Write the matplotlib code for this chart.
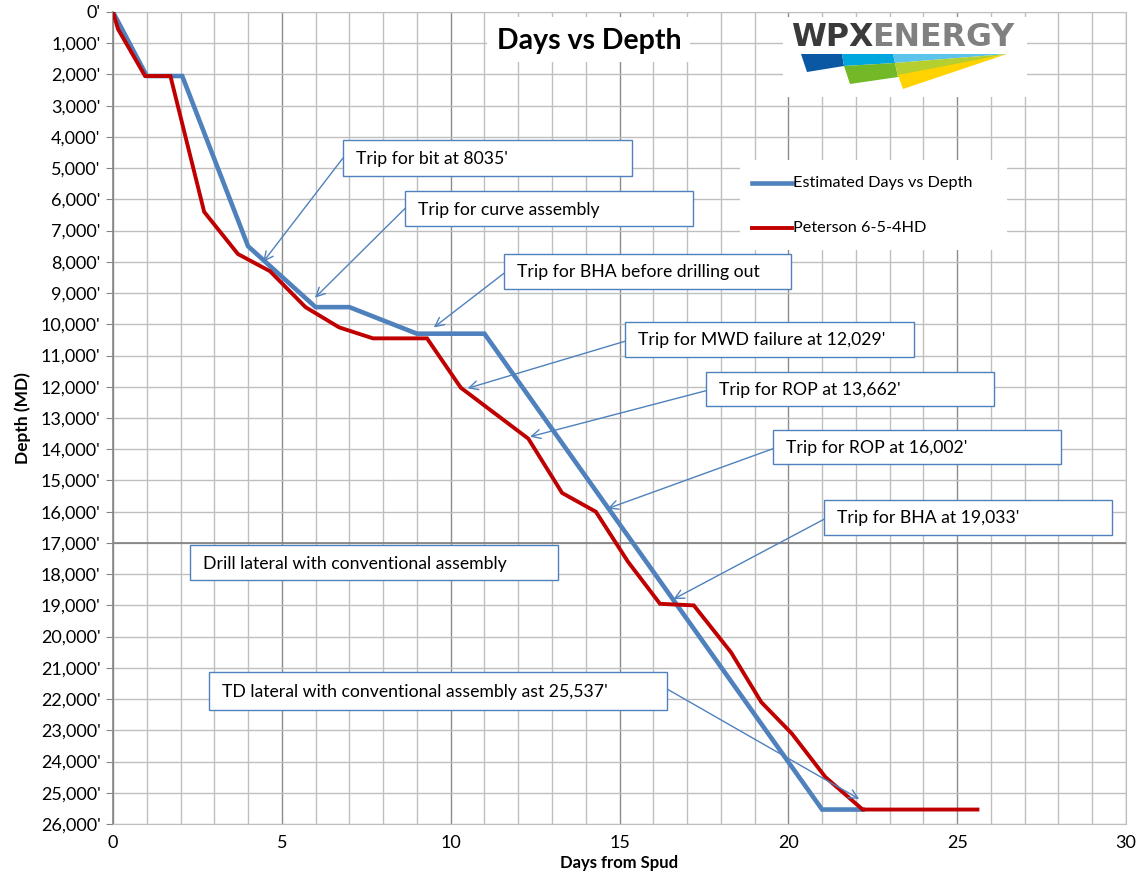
import matplotlib
matplotlib.use("Agg")
import matplotlib.pyplot as plt
from matplotlib.patches import Rectangle, Polygon
from matplotlib.ticker import MultipleLocator, FuncFormatter

# ---------------------------------------------------------------
# dados
est_days = [0, 1.0, 2.05, 4.0, 6.0, 7.0, 9.0, 11.0, 21.0, 22.2]
est_depth = [0, 2050, 2050, 7500, 9450, 9450, 10300, 10300, 25537, 25537]

act_days = [0, 0.15, 0.95, 1.7, 2.7, 3.7, 4.65, 5.7, 6.7, 7.7, 9.3, 10.3,
            12.3, 13.3, 14.3, 15.25, 16.2, 17.2, 18.3, 19.2, 20.1, 21.1,
            22.2, 25.6]
act_depth = [0, 550, 2050, 2050, 6400, 7750, 8300, 9450, 10100, 10450,
             10450, 12030, 13662, 15400, 16002, 17600, 18950, 19000, 20500,
             22100, 23100, 24500, 25537, 25537]

series_names = ["Estimated Days vs Depth", "Peterson 6-5-4HD"]

# texto das caixas e ponto (dias, profundidade) para onde a seta aponta
notes = ["Trip for bit at 8035'",
         "Trip for curve assembly",
         "Trip for BHA before drilling out",
         "Trip for MWD failure at 12,029'",
         "Trip for ROP at 13,662'",
         "Trip for ROP at 16,002'",
         "Trip for BHA at 19,033'",
         "Drill lateral with conventional assembly",
         "TD lateral with conventional assembly ast 25,537'"]
note_targets = [(4.45, 8000), (5.98, 9150), (9.5, 10100), (10.5, 12050),
                (12.35, 13600), (14.65, 15900), (16.6, 18800), None,
                (22.1, 25200)]

W, H = 1136, 873
BLUE = "#4F81BD"
RED = "#C00000"
FONT = ["Lato", "DejaVu Sans"]


def fx(x):
    return x / W


def fy(y):
    return 1 - y / H


#------------------------------------------------------------------
def main():
    plt.rcParams['font.family'] = FONT
    fig = plt.figure(figsize=(W / 100, H / 100), dpi=100)
    ax = fig.add_axes([fx(113), fy(824), fx(1126) - fx(113), fy(12) - fy(824)])

    ax.set_xlim(0, 30)
    ax.set_ylim(26000, 0)

    # grade
    ax.xaxis.set_major_locator(MultipleLocator(5))
    ax.xaxis.set_minor_locator(MultipleLocator(1))
    ax.yaxis.set_major_locator(MultipleLocator(1000))
    ax.grid(which="minor", axis="x", color="#BFBFBF", lw=1.0)
    ax.grid(which="major", axis="x", color="#8C8C8C", lw=1.0)
    ax.grid(which="major", axis="y", color="#BFBFBF", lw=1.0)
    ax.set_axisbelow(True)
    ax.axhline(17000, color="#7F7F7F", lw=1.2, zorder=1)

    for s in ["top", "right", "bottom"]:
        ax.spines[s].set_color("#BFBFBF")
    ax.spines["left"].set_color("#868686")
    ax.spines["left"].set_linewidth(1.2)

    ax.yaxis.set_major_formatter(FuncFormatter(lambda v, p: "{:,.0f}'".format(v)))
    ax.tick_params(axis="y", which="major", length=5, color="#868686",
                   labelsize=13, pad=4)
    ax.tick_params(axis="x", which="both", length=0, labelsize=13, pad=8)

    ax.set_xlabel("Days from Spud", fontsize=12, fontweight="bold", labelpad=3)
    ax.set_ylabel("Depth (MD)", fontsize=12.5, fontweight="bold", labelpad=7)

    # series
    ax.plot(est_days, est_depth, color=BLUE, lw=3.3, zorder=3,
            solid_joinstyle="miter")
    ax.plot(act_days, act_depth, color=RED, lw=2.8, zorder=4,
            solid_joinstyle="miter")

    # areas brancas: titulo, logo, legenda
    for (x0, y0, x1, y1) in [(487, 17, 690, 62), (783, 17, 1027, 97),
                             (740, 160, 1007, 250)]:
        fig.add_artist(Rectangle((fx(x0), fy(y1)), fx(x1) - fx(x0),
                                 fy(y0) - fy(y1), transform=fig.transFigure,
                                 facecolor="white", edgecolor="none", zorder=5))

    fig.text(fx(589), fy(41), "Days vs Depth", fontsize=20.5, fontweight="bold",
             ha="center", va="center", zorder=6)

    # legenda
    for i, (name, col, lw) in enumerate(zip(series_names, [BLUE, RED], [3.3, 2.8])):
        y = 183 + 45 * i
        fig.add_artist(plt.Line2D([fx(752), fx(792)], [fy(y), fy(y)],
                                  transform=fig.transFigure, color=col, lw=lw,
                                  zorder=6))
        fig.text(fx(793), fy(y), name, fontsize=11.7, va="center", ha="left",
                 zorder=6)

    # logo
    t1 = fig.text(fx(791), fy(37), "WPX", fontsize=22.8, fontweight="bold",
                  color="#3A3A3A", va="center", ha="left", family="DejaVu Sans",
                  zorder=6)
    fig.add_artist(plt.Annotation("ENERGY", xy=(1, 0.5), xycoords=t1,
                                  xytext=(-1, 0), textcoords="offset points",
                                  fontsize=22.8, fontweight="bold",
                                  color="#808080", va="center", ha="left",
                                  family="DejaVu Sans", zorder=6))
    shapes = [
        ([(801, 54), (842, 54), (844, 66), (807, 72)], "#0A57A4"),
        ([(842, 54), (893, 54), (895, 63), (844, 66)], "#00A6DE"),
        ([(893, 54), (1007, 54), (895, 63)], "#5CC3EA"),
        ([(844, 66), (895, 63), (898, 77), (850, 84)], "#72B827"),
        ([(895, 63), (1007, 54), (898, 77)], "#B4CF2E"),
        ([(898, 75), (1007, 54), (903, 89)], "#FFD200"),
    ]
    for pts, col in shapes:
        fig.add_artist(Polygon([(fx(a), fy(b)) for a, b in pts], closed=True,
                               transform=fig.transFigure, facecolor=col,
                               edgecolor="none", zorder=6))

    # caixas com setas
    boxes = [(343, 140, 632, 176), (405, 191, 693, 226), (504, 254, 791, 289),
             (625, 322, 914, 357), (706, 372, 994, 406), (773, 430, 1061, 464),
             (824, 500, 1112, 535), (190, 545, 558, 580), (209, 672, 667, 710)]
    for txt, tgt, (x0, y0, x1, y1) in zip(notes, note_targets, boxes):
        fig.add_artist(Rectangle((fx(x0), fy(y1)), fx(x1) - fx(x0),
                                 fy(y0) - fy(y1), transform=fig.transFigure,
                                 facecolor="white", edgecolor=BLUE, lw=1.0,
                                 zorder=7))
        fig.text(fx(x0 + 13), fy((y0 + y1) / 2 + 1), txt, fontsize=12.7,
                 va="center", ha="left", zorder=8)
        if tgt is not None:
            start = (fx(x0), fy(y0 + 0.55 * (y1 - y0)))
            if txt.startswith("TD"):
                start = (fx(x1), fy((y0 + y1) / 2 - 2))
            elif txt.startswith("Trip for bit") or txt.startswith("Trip for curve"):
                start = (fx(x0), fy(y0 + 0.5 * (y1 - y0)))
            ax.annotate("", xy=tgt, xycoords="data", xytext=start,
                        textcoords="figure fraction",
                        arrowprops=dict(arrowstyle="->", color=BLUE, lw=1.0,
                                        mutation_scale=16, shrinkA=0,
                                        shrinkB=0),
                        zorder=6, annotation_clip=False)

    fig.savefig("out.png", dpi=100)


#------------------------------------------------------------------
if __name__ == "__main__":
    main()
